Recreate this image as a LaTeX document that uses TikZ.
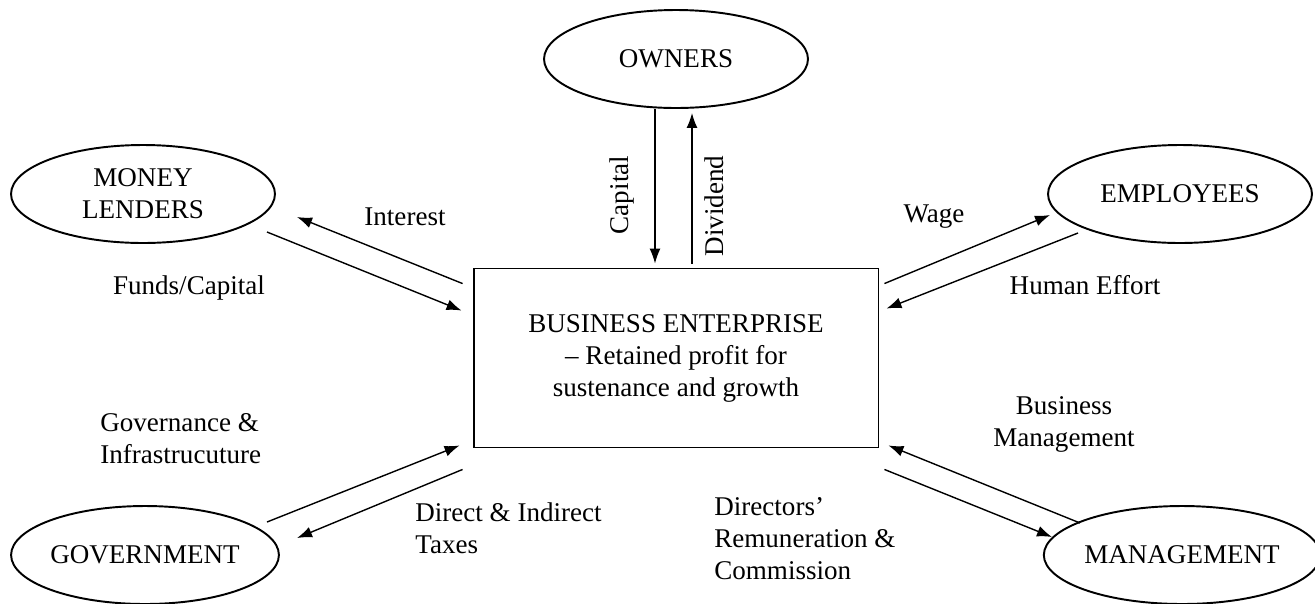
\documentclass[tikz,border=0pt]{standalone}
\usepackage{fontspec}
\setmainfont{Liberation Serif}
\usetikzlibrary{arrows.meta,shapes,positioning,calc}
\tikzset{
  party/.style  = {draw, ellipse, line width=1.1pt, minimum width=5.28cm, minimum height=1.96cm,
  align=center, inner sep=0pt, font=\fontsize{15.4}{18.2}\selectfont},
  firm/.style   = {draw, rectangle, line width=1.1pt, minimum width=8.1cm, minimum height=3.58cm,
  align=center, font=\fontsize{15.4}{18.2}\selectfont},
  flow/.style   = {-{Latex[length=3mm,width=2.2mm]}, line width=0.8pt},
  lbl/.style    = {align=center, inner sep=0pt, font=\fontsize{15.4}{18.2}\selectfont},
  lblleft/.style = {lbl, align=left}
}

\begin{document}
\begin{tikzpicture}[x=0.02cm, y=-0.02cm]
\useasboundingbox (0,0) rectangle (1315,603);

\node[firm] (firm) at (676,358) {BUSINESS ENTERPRISE\\ -- Retained profit for\\ sustenance and growth};
\node[party] (owners) at (676,59) {OWNERS};
\node[party] (lenders) at (143,194) {MONEY\\ LENDERS};
\node[party] (employees) at (1180,194) {EMPLOYEES};
\node[party] (govt) at (145,555) {GOVERNMENT};
\node[party] (mgmt) at (1182,555) {MANAGEMENT};

% labels
\node[lbl] (interest) at (405,217) {Interest};
\node[lbl] (funds) at (189,288) {Funds/Capital};
\node[lbl, rotate=90] (capital) at (622,195) {Capital};
\node[lbl, rotate=90] (dividend) at (714,206) {Dividend};
\node[lbl] (wage) at (934,217) {Wage};
\node[lbl] (effort) at (1085,285) {Human Effort};
\node[lbl] (busmgmt) at (1064,424) {Business\\ Management};
\node[lblleft, anchor=west] (remun) at (714,539) {Directors'\\ Remuneration \&\\ Commission};
\node[lblleft, anchor=west] (taxes) at (415,528) {Direct \& Indirect\\ Taxes};
\node[lblleft, anchor=west] (governance) at (100,439) {Governance \&\\ Infrastrucuture};

% flows
\path[flow] ($(firm.north west)+(-10,16)$) edge ($(lenders)+(154,23)$);
\path[flow] ($(lenders)+(124,38)$) edge ($(firm.north west)+(-11,43)$);
\path[flow] ($(owners.south)+(-21,0)$) edge ($(firm.north)+(-21,-4)$);
\path[flow] ($(firm.north)+(16,-4)$) edge ($(owners.south)+(16,4)$);
\path[flow] ($(firm.north east)+(5,16)$) edge ($(employees)+(-130,21)$);
\path[flow] ($(employees)+(-102,39)$) edge ($(firm.north east)+(7,41)$);
\path[flow] ($(mgmt)+(-102,-32)$) edge ($(firm.south east)+(9,-3)$);
\path[flow] ($(firm.south east)+(5,21)$) edge ($(mgmt)+(-130,-18)$);
\path[flow] ($(govt)+(122,-33)$) edge ($(firm.south west)+(-13,-3)$);
\path[flow] ($(firm.south west)+(-10,21)$) edge ($(govt)+(152,-17)$);
\end{tikzpicture}
\end{document}
